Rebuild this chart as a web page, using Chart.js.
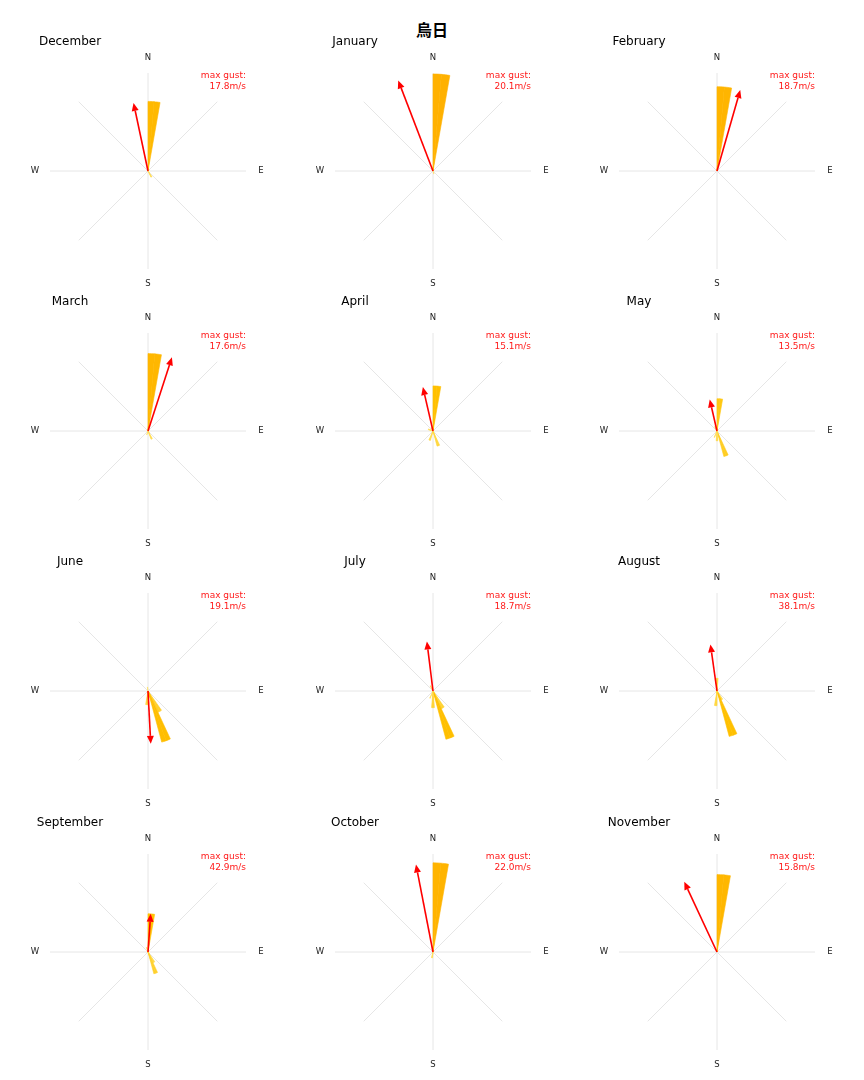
<!DOCTYPE html>
<html><head><meta charset="utf-8">
<script src="https://cdn.jsdelivr.net/npm/chart.js@4"></script>
<style>
body{margin:0;background:#fff;width:864px;height:1080px;position:relative;overflow:hidden}
#title{position:absolute;left:0;top:18px;width:864px;text-align:center;font:bold 16px "Noto Sans CJK TC";color:#000;line-height:22px}
canvas{position:absolute}
</style></head><body>
<div id="title">烏日</div>
<script>
// ---- data ----
const months = ['December','January','February','March','April','May','June','July','August','September','October','November'];
const gustSpeed = [17.8, 20.1, 18.7, 17.6, 15.1, 13.5, 19.1, 18.7, 38.1, 42.9, 22.0, 15.8];
const gustDir   = [348, 339, 16, 18, 347, 347, 177, 353, 352, 4, 349, 335];
const compass = ['N', 'E', 'S', 'W'];
// direction bins (start angle in degrees, 5 degree bins)
const binLabels = Array.from({length: 72}, (_, i) => String(i * 5));
// [bin start degree, frequency]
const freqDec = [[0,71],[5,71],[145,7],[150,7]];
const freqJan = [[0,99],[5,99],[160,3]];
const freqFeb = [[0,86],[5,86]];
const freqMar = [[0,79],[5,79],[150,9],[155,9],[195,4]];
const freqApr = [[0,46],[5,46],[155,16],[160,16],[195,10],[200,10],[285,5],[290,5],[330,4]];
const freqMay = [[0,33],[5,33],[155,27],[160,27],[175,10],[180,10],[200,7],[330,5]];
const freqJun = [[145,24],[150,24],[155,54],[160,54],[180,14],[185,14],[350,4]];
const freqJul = [[145,20],[150,20],[155,51],[160,51],[175,17],[180,17],[200,8],[330,6]];
const freqAug = [[355,13],[0,13],[145,10],[150,10],[155,48],[160,48],[180,15],[185,15]];
const freqSep = [[0,39],[5,39],[145,12],[150,12],[155,23],[160,23],[340,5]];
const freqOct = [[0,91],[5,91],[185,6],[190,6]];
const freqNov = [[0,79],[5,79]];
const monthFreq = [freqDec,freqJan,freqFeb,freqMar,freqApr,freqMay,freqJun,freqJul,freqAug,freqSep,freqOct,freqNov];

// ---- layout ----
const colX = [148, 433, 717];
const rowY = [171, 431, 691, 952];
const CW = 284, CH = 276;
const FONT = '"DejaVu Sans", sans-serif';

function colorFor(v) {
  const t = Math.max(0, Math.min(1, v / 100));
  const g = 205 - 28 * t;
  const a = 0.6 + 0.4 * Math.min(1, v / 40);
  // blend with white instead of transparency (opaque, no seams)
  const gg = Math.round(g * a + 255 * (1 - a));
  const bb = Math.round(255 * (1 - a));
  return `rgb(255,${gg},${bb})`;
}

const windDecor = {
  id: 'windDecor',
  beforeDatasetsDraw(chart, args, o) {
    const s = chart.scales.r, ctx = chart.ctx;
    const per = binLabels.length / 8;
    ctx.save();
    ctx.strokeStyle = '#e6e6e6'; ctx.lineWidth = 1;
    for (let k = 0; k < 8; k++) {
      const p = s.getPointPosition(k * per, s.drawingArea);
      ctx.beginPath(); ctx.moveTo(s.xCenter, s.yCenter); ctx.lineTo(p.x, p.y); ctx.stroke();
    }
    ctx.fillStyle = '#222'; ctx.font = '8.5px ' + FONT;
    ctx.textAlign = 'center'; ctx.textBaseline = 'middle';
    compass.forEach((c, k) => {
      const p = s.getPointPosition(k * per * 2, s.drawingArea + 15);
      ctx.fillText(c, p.x, p.y);
    });
    ctx.restore();
  },
  afterDatasetsDraw(chart, args, o) {
    const s = chart.scales.r, ctx = chart.ctx;
    const step = 360 / binLabels.length;
    const d = s.getDistanceFromCenterForValue(o.len);
    const tip = s.getPointPosition(o.dir / step, d);
    const ang = Math.atan2(tip.y - s.yCenter, tip.x - s.xCenter);
    const hl = 8, hw = 3.5;
    const bx = tip.x - Math.cos(ang) * hl, by = tip.y - Math.sin(ang) * hl;
    ctx.save();
    ctx.strokeStyle = '#ff0000'; ctx.fillStyle = '#ff0000'; ctx.lineWidth = 1.6;
    ctx.beginPath(); ctx.moveTo(s.xCenter, s.yCenter); ctx.lineTo(bx, by); ctx.stroke();
    ctx.beginPath();
    ctx.moveTo(tip.x, tip.y);
    ctx.lineTo(bx + Math.sin(ang) * hw, by - Math.cos(ang) * hw);
    ctx.lineTo(bx - Math.sin(ang) * hw, by + Math.cos(ang) * hw);
    ctx.closePath(); ctx.fill();
    // texts
    ctx.textBaseline = 'middle';
    ctx.fillStyle = '#000'; ctx.font = '12px ' + FONT; ctx.textAlign = 'center';
    ctx.fillText(o.month, s.xCenter - 78, s.yCenter - 129);
    ctx.fillStyle = '#ff1a1a'; ctx.font = '9px ' + FONT; ctx.textAlign = 'right';
    ctx.fillText('max gust:', s.xCenter + s.drawingArea, s.yCenter - 95);
    ctx.fillText(o.gust.toFixed(1) + 'm/s', s.xCenter + s.drawingArea, s.yCenter - 84);
    ctx.restore();
  }
};

months.forEach((m, i) => {
  const cx = colX[i % 3], cy = rowY[Math.floor(i / 3)];
  const cv = document.createElement('canvas');
  cv.width = CW; cv.height = CH;
  cv.style.left = (cx - 142) + 'px'; cv.style.top = (cy - 140) + 'px';
  cv.style.width = CW + 'px'; cv.style.height = CH + 'px';
  document.body.appendChild(cv);
  const values = binLabels.map(() => 0);
  monthFreq[i].forEach(([deg, v]) => { values[Math.round(deg / 5)] = v; });
  const maxV = Math.max(...values);
  new Chart(cv, {
    type: 'polarArea',
    data: { labels: binLabels, datasets: [{ data: values, borderWidth: 0.6,
      backgroundColor: c => colorFor(c.raw || 0),
      borderColor: c => colorFor(c.raw || 0) }] },
    options: {
      responsive: false, animation: false, devicePixelRatio: 1,
      layout: { padding: { left: 44, right: 44, top: 42, bottom: 38 } },
      plugins: { legend: { display: false }, tooltip: { enabled: false },
        windDecor: { month: m, gust: gustSpeed[i], dir: gustDir[i], len: maxV } },
      scales: { r: { min: 0, max: 100, startAngle: 0,
        ticks: { display: false }, grid: { display: false },
        angleLines: { display: false }, pointLabels: { display: false } } }
    },
    plugins: [windDecor]
  });
});
</script>
</body></html>
